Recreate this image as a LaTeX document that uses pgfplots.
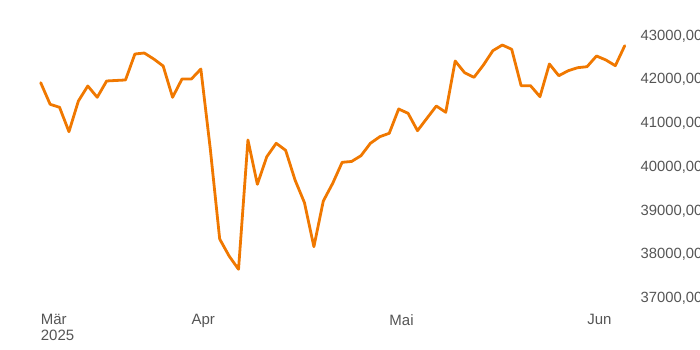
\documentclass[border=0pt]{standalone}
\usepackage{pgfplots}
\pgfplotsset{compat=1.18}
\usepackage{fontspec}
\setmainfont{Liberation Sans}
\definecolor{lineorange}{HTML}{F07800}
\definecolor{textgray}{HTML}{555555}
\begin{document}
\begin{tikzpicture}
\useasboundingbox (0,0) rectangle (700pt,350pt);
\clip (0,0) rectangle (700pt,350pt);
\begin{axis}[
  at={(0,0)}, anchor=south west,
  scale only axis,
  width=700pt, height=350pt,
  xmin=-4.321, xmax=69.99,
  ymin=35795, ymax=43800.5,
  axis line style={draw=none},
  tick style={draw=none},
  xtick={0,16,37,58},
  xticklabels={{Mär\\2025},Apr,Mai,Jun},
  ytick={37000,38000,39000,40000,41000,42000,43000},
  scaled y ticks=false,
  yticklabel pos=right,
  tick label style={text=textgray},
  xticklabel style={font=\fontsize{15}{16}\selectfont, anchor=north west, align=left, inner sep=0pt, yshift=36pt},
  yticklabel style={font=\fontsize{14.8}{16}\selectfont, anchor=west, inner sep=0pt, xshift=-59.5pt, text height=10.4pt, text depth=0pt},
  /pgf/number format/fixed,
  /pgf/number format/fixed zerofill,
  /pgf/number format/precision=2,
  /pgf/number format/use comma,
  /pgf/number format/1000 sep={},
  /pgf/number format/assume math mode=true,
]
\addplot[lineorange, line width=2.8pt, line join=round, line cap=round] coordinates {
(0,41909) (1,41415) (2,41346) (3,40788) (4,41490) (5,41834) (6,41575) (7,41948)
(8,41960) (9,41971) (10,42565) (11,42588) (12,42451) (13,42291) (14,41575) (15,41994)
(16,41994) (17,42222) (18,40400) (19,38334) (20,37945) (21,37641) (22,40598) (23,39585)
(24,40216) (25,40523) (26,40363) (27,39683) (28,39164) (29,38158) (30,39203) (31,39608)
(32,40088) (33,40107) (34,40239) (35,40523) (36,40674) (37,40752) (38,41307) (39,41209)
(40,40811) (41,41095) (42,41376) (43,41232) (44,42405) (45,42138) (46,42032) (47,42314)
(48,42641) (49,42771) (50,42673) (51,41840) (52,41840) (53,41589) (54,42337) (55,42069)
(56,42183) (57,42252) (58,42275) (59,42520) (60,42428) (61,42298) (62,42755)
};
\end{axis}
\end{tikzpicture}
\end{document}
